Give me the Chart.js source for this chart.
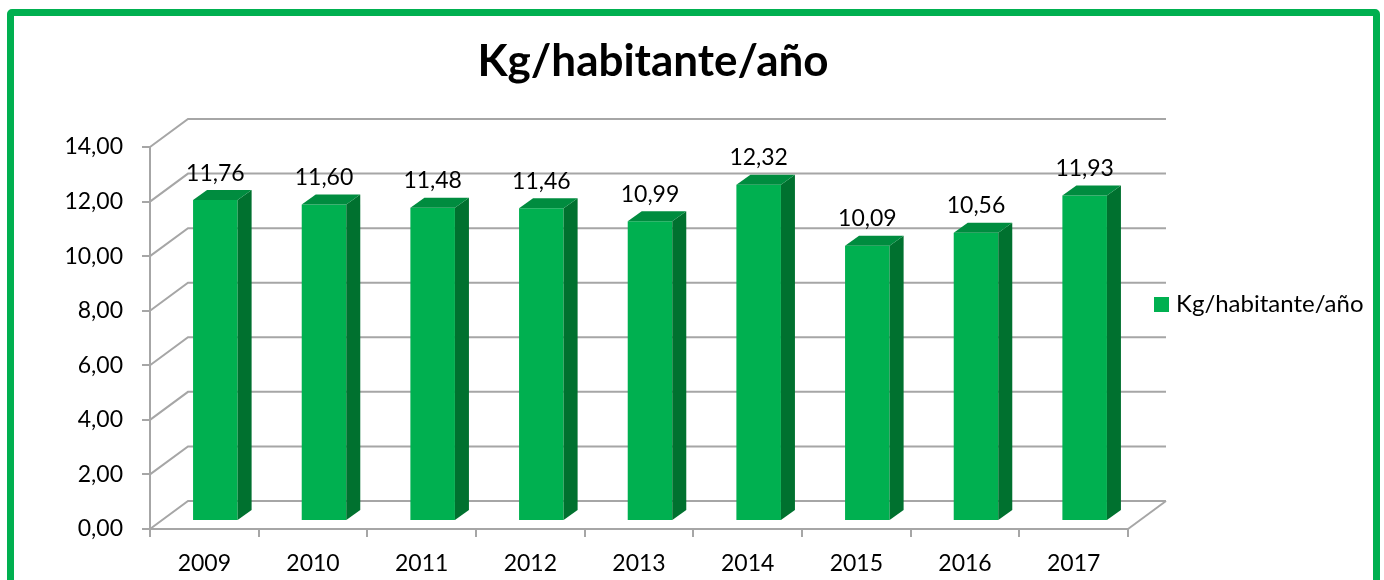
<!DOCTYPE html>
<html>
<head>
<meta charset="utf-8">
<script src="https://cdn.jsdelivr.net/npm/chart.js@4/dist/chart.umd.min.js"></script>
<style>
    html, body { margin: 0; padding: 0; background: #fff; overflow: hidden; }
    #frame {
        position: absolute;
        left: 7px;
        top: 9px;
        width: 1359px;
        height: 620px;
        border: 7px solid #00b050;
        border-radius: 5px;
    }
    #chart { position: absolute; left: 0; top: 0; }
</style>
</head>
<body>
<div id="frame"></div>
<canvas id="chart" width="1384" height="580"></canvas>
<script>
(function () {
    'use strict';

    var titleText = 'Kg/habitante/año';
    var seriesName = 'Kg/habitante/año';
    var years = ['2009', '2010', '2011', '2012', '2013', '2014', '2015', '2016', '2017'];
    var kgPerPerson = [11.76, 11.60, 11.48, 11.46, 10.99, 12.32, 10.09, 10.56, 11.93];
    var yTicks = [0, 2, 4, 6, 8, 10, 12, 14];

    var green = '#00b050';
    var greenTop = '#008c3f';
    var greenSide = '#00712f';
    var gridColor = '#a6a6a6';
    var textColor = '#000';
    var fontFamily = 'Lato, "Open Sans", sans-serif';

    // 3D look: back wall offset and bar depth
    var wallDx = 38, wallDy = -28;
    var barShiftX = 11, barShiftY = -8;
    var barDepthX = 14, barDepthY = -10;

    function fmt(v) {
        return Number(v).toFixed(2).replace('.', ',');
    }

    var threeD = {
        id: 'threeD',
        beforeDatasetsDraw: function (chart) {
            var ctx = chart.ctx;
            var area = chart.chartArea;
            var yScale = chart.scales.y;
            ctx.save();
            ctx.strokeStyle = gridColor;
            ctx.lineWidth = 2;
            yTicks.forEach(function (v) {
                var y = yScale.getPixelForValue(v);
                ctx.beginPath();
                ctx.moveTo(area.left, y);
                ctx.lineTo(area.left + wallDx, y + wallDy);
                ctx.lineTo(area.right + wallDx, y + wallDy);
                ctx.stroke();
            });
            var y0 = yScale.getPixelForValue(0);
            ctx.beginPath();
            ctx.moveTo(area.right, y0);
            ctx.lineTo(area.right + wallDx, y0 + wallDy);
            ctx.stroke();
            ctx.restore();

            // front faces are drawn by Chart.js, pushed back a little into the box
            ctx.save();
            ctx.translate(barShiftX, barShiftY);
        },
        afterDatasetsDraw: function (chart) {
            var ctx = chart.ctx;
            ctx.restore();

            var meta = chart.getDatasetMeta(0);
            ctx.save();
            meta.data.forEach(function (bar, i) {
                var p = bar.getProps(['x', 'y', 'base', 'width'], true);
                var xl = p.x - p.width / 2 + barShiftX;
                var xr = p.x + p.width / 2 + barShiftX;
                var top = p.y + barShiftY;
                var bottom = p.base + barShiftY;

                ctx.fillStyle = greenSide;
                ctx.beginPath();
                ctx.moveTo(xr, top);
                ctx.lineTo(xr + barDepthX, top + barDepthY);
                ctx.lineTo(xr + barDepthX, bottom + barDepthY);
                ctx.lineTo(xr, bottom);
                ctx.closePath();
                ctx.fill();

                ctx.fillStyle = greenTop;
                ctx.beginPath();
                ctx.moveTo(xl, top);
                ctx.lineTo(xl + barDepthX, top + barDepthY);
                ctx.lineTo(xr + barDepthX, top + barDepthY);
                ctx.lineTo(xr, top);
                ctx.closePath();
                ctx.fill();

                ctx.fillStyle = textColor;
                ctx.font = '23px ' + fontFamily;
                ctx.textAlign = 'center';
                ctx.textBaseline = 'middle';
                ctx.fillText(fmt(kgPerPerson[i]), (xl + xr) / 2, top - 27);
            });
            ctx.restore();
        },
        afterDraw: function (chart) {
            var ctx = chart.ctx;
            ctx.save();
            ctx.fillStyle = textColor;
            ctx.font = 'bold 44px ' + fontFamily;
            ctx.textAlign = 'center';
            ctx.textBaseline = 'alphabetic';
            ctx.fillText(titleText, 653, 76);

            ctx.fillStyle = green;
            ctx.fillRect(1154, 297, 15, 15);
            ctx.fillStyle = textColor;
            ctx.font = '24px ' + fontFamily;
            ctx.textAlign = 'left';
            ctx.fillText(seriesName, 1176, 312);
            ctx.restore();
        }
    };

    new Chart(document.getElementById('chart'), {
        type: 'bar',
        data: {
            labels: years,
            datasets: [{
                label: seriesName,
                data: kgPerPerson,
                backgroundColor: green,
                borderWidth: 0,
                barPercentage: 0.41,
                categoryPercentage: 1
            }]
        },
        options: {
            responsive: false,
            animation: false,
            devicePixelRatio: 1,
            layout: {
                padding: { left: 0, top: 147, right: 256, bottom: 0 }
            },
            plugins: {
                legend: { display: false },
                title: { display: false },
                tooltip: { enabled: false }
            },
            scales: {
                x: {
                    offset: true,
                    afterFit: function (scale) { scale.height = 51; },
                    grid: {
                        offset: true,
                        drawOnChartArea: false,
                        tickLength: 8,
                        color: gridColor,
                        lineWidth: 2
                    },
                    border: { color: gridColor, width: 2 },
                    ticks: {
                        color: textColor,
                        font: { family: fontFamily, size: 23 },
                        padding: 13,
                        maxRotation: 0
                    }
                },
                y: {
                    min: 0,
                    max: 14,
                    afterFit: function (scale) { scale.width = 150; },
                    afterBuildTicks: function (scale) {
                        scale.ticks = yTicks.map(function (v) { return { value: v }; });
                    },
                    grid: {
                        drawOnChartArea: false,
                        tickLength: 8,
                        color: gridColor,
                        lineWidth: 2
                    },
                    border: { color: gridColor, width: 2 },
                    ticks: {
                        color: textColor,
                        font: { family: fontFamily, size: 23 },
                        padding: 19,
                        callback: function (v) { return fmt(v); }
                    }
                }
            }
        },
        plugins: [threeD]
    });
})();
</script>
</body>
</html>
